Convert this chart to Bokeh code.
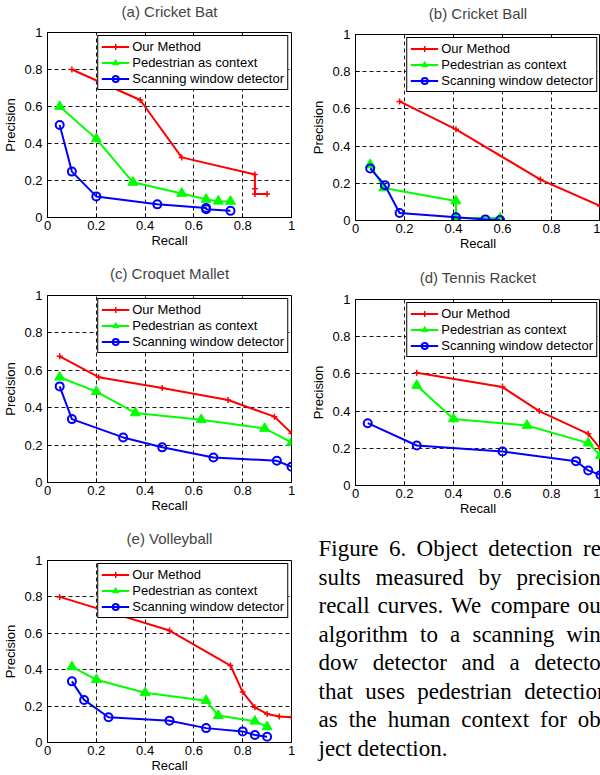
from bokeh.plotting import figure
from bokeh.layouts import column, row
from bokeh.models import Range1d, FixedTicker, CustomJSTickFormatter, Legend, LegendItem
from bokeh.core.properties import value
from bokeh.embed import file_html
from bokeh.resources import INLINE

# ---------------- data ----------------
TICKS = [0, 0.2, 0.4, 0.6, 0.8, 1.0]
SERIES = ["Our Method", "Pedestrian as context", "Scanning window detector"]

a_title = "(a) Cricket Bat"
a_red_x = [0.10, 0.38, 0.55, 0.85, 0.85, 0.85, 0.90]
a_red_y = [0.80, 0.635, 0.325, 0.232, 0.156, 0.127, 0.127]
a_green_x = [0.05, 0.20, 0.35, 0.55, 0.65, 0.70, 0.75]
a_green_y = [0.60, 0.425, 0.19, 0.13, 0.098, 0.088, 0.087]
a_blue_x = [0.05, 0.10, 0.20, 0.45, 0.65, 0.65, 0.75]
a_blue_y = [0.50, 0.248, 0.114, 0.071, 0.052, 0.045, 0.036]

b_title = "(b) Cricket Ball"
b_red_x = [0.18, 0.41, 0.755, 1.0]
b_red_y = [0.64, 0.49, 0.22, 0.077]
b_green_x = [0.06, 0.115, 0.41, 0.41, 0.59]
b_green_y = [0.30, 0.175, 0.105, 0.015, 0.012]
b_blue_x = [0.06, 0.12, 0.18, 0.41, 0.53, 0.59]
b_blue_y = [0.28, 0.19, 0.04, 0.017, 0.006, 0.003]

c_title = "(c) Croquet Mallet"
c_red_x = [0.05, 0.21, 0.47, 0.74, 0.93, 1.0]
c_red_y = [0.675, 0.563, 0.505, 0.441, 0.352, 0.264]
c_green_x = [0.05, 0.20, 0.36, 0.63, 0.89, 1.0]
c_green_y = [0.563, 0.486, 0.372, 0.336, 0.289, 0.214]
c_blue_x = [0.05, 0.10, 0.31, 0.47, 0.68, 0.94, 1.0]
c_blue_y = [0.514, 0.339, 0.241, 0.188, 0.134, 0.116, 0.084]

d_title = "(d) Tennis Racket"
d_red_x = [0.25, 0.60, 0.75, 0.95, 1.0]
d_red_y = [0.606, 0.529, 0.40, 0.278, 0.197]
d_green_x = [0.25, 0.40, 0.70, 0.95, 1.0]
d_green_y = [0.538, 0.358, 0.323, 0.228, 0.161]
d_blue_x = [0.05, 0.25, 0.60, 0.90, 0.95, 1.0]
d_blue_y = [0.335, 0.215, 0.183, 0.131, 0.081, 0.057]

e_title = "(e) Volleyball"
e_red_x = [0.05, 0.50, 0.75, 0.80, 0.85, 0.90, 0.95, 1.0]
e_red_y = [0.80, 0.615, 0.423, 0.277, 0.193, 0.157, 0.143, 0.139]
e_green_x = [0.10, 0.20, 0.40, 0.65, 0.70, 0.85, 0.90]
e_green_y = [0.416, 0.345, 0.273, 0.230, 0.148, 0.117, 0.086]
e_blue_x = [0.10, 0.15, 0.25, 0.50, 0.65, 0.80, 0.85, 0.90]
e_blue_y = [0.336, 0.234, 0.139, 0.12, 0.079, 0.061, 0.041, 0.032]

caption_lines = [
    ["Figure", "6.", "Object", "detection", "re-"],
    ["sults", "measured", "by", "precision-"],
    ["recall", "curves.", "We", "compare", "our"],
    ["algorithm", "to", "a", "scanning", "win-"],
    ["dow", "detector", "and", "a", "detector"],
    ["that", "uses", "pedestrian", "detection"],
    ["as", "the", "human", "context", "for", "ob-"],
    ["ject", "detection."],
]

# ---------------- layout / style ----------------
RED, GREEN, BLUE = "#ff0000", "#00ff00", "#0000ff"
SANS = "Liberation Sans"
SERIF = "Liberation Serif"

# Times / Liberation Serif advance widths (per 1000 em) used to justify the caption
TIMES_W = {"F": 556, "i": 278, "g": 500, "u": 500, "r": 333, "e": 444, "6": 500, ".": 250,
           "O": 722, "b": 500, "j": 278, "c": 444, "t": 278, "d": 500, "o": 500, "n": 500,
           "-": 333, "s": 389, "l": 278, "m": 778, "a": 444, "y": 500, "p": 500, "v": 500,
           "W": 944, "h": 500, "w": 722, "x": 500, "f": 333}
CAP_FONT = 23.0
CAP_LEFT = 18.0          # px inside caption canvas
CAP_WIDTH = 290.0        # justified column width (runs past the page edge)
CAP_BASE0 = 28.0
CAP_LEAD = 28.5


def panel(title, rx, ry, gx, gy, bx, by, W, H, bl, br, bt, bb, standoff, lift):
    p = figure(width=W, height=H, x_range=Range1d(0, 1), y_range=Range1d(0, 1),
               title=title, output_backend="svg", toolbar_location=None,
               min_border_left=bl, min_border_right=br, min_border_top=bt,
               min_border_bottom=bb, x_axis_label="Recall", y_axis_label="Precision")
    p.frame_align = False
    p.title.text_font = SANS
    p.title.text_font_size = "15px"
    p.title.text_font_style = "normal"
    p.title.align = "center"
    try:
        p.title.padding = dict(left=0, right=0, top=0, bottom=lift)
        p.title.standoff = 0
    except Exception:
        p.title.standoff = standoff
    p.outline_line_color = "black"
    p.outline_line_width = 1
    p.outline_line_alpha = 1
    p.background_fill_color = "white"
    p.border_fill_color = "white"
    fmt = CustomJSTickFormatter(code="var s = tick.toFixed(1); return s.replace(/\\.0$/, '');")
    for ax in (p.xaxis[0], p.yaxis[0]):
        ax.ticker = FixedTicker(ticks=TICKS)
        ax.formatter = fmt
        ax.major_tick_in = 4
        ax.major_tick_out = 0
        ax.minor_tick_line_color = None
        ax.major_tick_line_color = "black"
        ax.axis_line_color = "black"
        ax.major_label_text_font = SANS
        ax.major_label_text_font_size = "13px"
        ax.major_label_text_color = "black"
        ax.axis_label_text_font = SANS
        ax.axis_label_text_font_size = "13px"
        ax.axis_label_text_font_style = "normal"
        ax.axis_label_text_color = "black"
    p.xaxis[0].major_label_standoff = 3
    p.xaxis[0].axis_label_standoff = 0
    p.yaxis[0].major_label_standoff = 5
    p.yaxis[0].axis_label_standoff = 3
    for g in (p.xgrid[0], p.ygrid[0]):
        g.grid_line_color = "black"
        g.grid_line_dash = "4 3"
        g.grid_line_width = 1
        g.grid_line_alpha = 0.9

    rl = p.line(rx, ry, line_color=RED, line_width=2)
    rs = p.scatter(rx, ry, marker="cross", size=6, line_color=RED, line_width=1.5)
    gl = p.line(gx, gy, line_color=GREEN, line_width=2)
    gs = p.scatter(gx, gy, marker="triangle", size=10, line_color=GREEN, fill_color=GREEN)
    bln = p.line(bx, by, line_color=BLUE, line_width=2)
    bs = p.scatter(bx, by, marker="circle", size=8, line_color=BLUE, line_width=2,
                   fill_color=BLUE, fill_alpha=0)

    leg = Legend(items=[LegendItem(label=SERIES[0], renderers=[rl, rs]),
                        LegendItem(label=SERIES[1], renderers=[gl, gs]),
                        LegendItem(label=SERIES[2], renderers=[bln, bs])],
                 location="top_right")
    leg.margin = 3
    leg.padding = 3
    leg.spacing = 1
    leg.glyph_width = 28
    leg.glyph_height = 15
    leg.label_height = 15
    leg.label_standoff = 3
    leg.label_text_font = SANS
    leg.label_text_font_size = "13px"
    leg.label_text_color = "black"
    leg.border_line_color = "black"
    leg.border_line_width = 1
    leg.border_line_alpha = 1
    leg.background_fill_color = "white"
    leg.background_fill_alpha = 1
    p.add_layout(leg)
    return p


LW, RW = 300, 300
H1, H2, H3 = 258, 262, 255
pa = panel(a_title, a_red_x, a_red_y, a_green_x, a_green_y, a_blue_x, a_blue_y,
           LW, H1, 46, 9, 31, 41, 16, 13)
pb = panel(b_title, b_red_x, b_red_y, b_green_x, b_green_y, b_blue_x, b_blue_y,
           RW, H1, 55, 0, 34, 38, 17, 13)
pc = panel(c_title, c_red_x, c_red_y, c_green_x, c_green_y, c_blue_x, c_blue_y,
           LW, H2, 46, 9, 37, 38, 18, 14)
pd = panel(d_title, d_red_x, d_red_y, d_green_x, d_green_y, d_blue_x, d_blue_y,
           RW, H2, 55, 0, 41, 35, 19, 14)
pe = panel(e_title, e_red_x, e_red_y, e_green_x, e_green_y, e_blue_x, e_blue_y,
           LW, H3, 46, 9, 40, 32, 19, 14)

# caption: full-canvas frame, data units == canvas pixels (y downwards)
cap = figure(width=RW, height=H3, x_range=Range1d(0, RW), y_range=Range1d(H3, 0),
             output_backend="svg", toolbar_location=None, min_border=0,
             min_border_left=0, min_border_right=0, min_border_top=0, min_border_bottom=0,
             x_axis_type=None, y_axis_type=None)
cap.frame_align = False
cap.outline_line_color = None
cap.grid.visible = False
cap.background_fill_color = "white"
cap.border_fill_color = "white"


def word_w(s):
    return sum(TIMES_W.get(ch, 500) for ch in s) / 1000.0 * CAP_FONT


wx, wy, wt = [], [], []
for i, words in enumerate(caption_lines):
    widths = [word_w(w) for w in words]
    last = (i == len(caption_lines) - 1)
    if last or len(words) == 1:
        gap = 0.25 * CAP_FONT
    else:
        gap = (CAP_WIDTH - sum(widths)) / (len(words) - 1)
    x = CAP_LEFT
    for w, ww in zip(words, widths):
        wx.append(x)
        wy.append(CAP_BASE0 + i * CAP_LEAD)
        wt.append(w)
        x += ww + gap

cap.text(x=wx, y=wy, text=wt, text_font=value(SERIF), text_font_size="23px",
         text_baseline="alphabetic", text_align="left", text_color="black")

layout = column(row(pa, pb), row(pc, pd), row(pe, cap))
open("out.html", "w").write(file_html(layout, INLINE))
